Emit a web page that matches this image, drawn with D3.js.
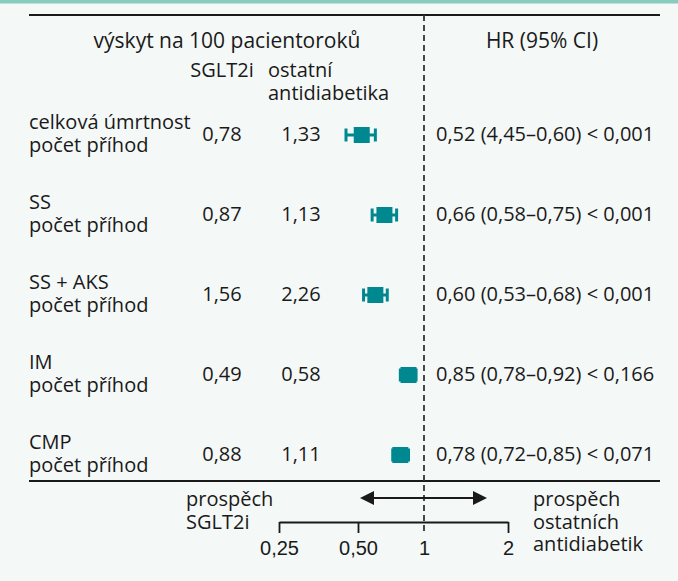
<!DOCTYPE html>
<html>
<head>
<meta charset="utf-8">
<script src="https://cdn.jsdelivr.net/npm/d3@7"></script>
<style>
  html, body { margin: 0; padding: 0; background: #f4f8f7; }
  svg { display: block; font-family: "Open Sans", "Noto Sans", sans-serif; }
  text { fill: #1a1a1a; }
</style>
</head>
<body>
<svg id="chart" width="678" height="581"></svg>
<script>
// Outcomes compared (label line 1), incidence per 100 patient-years, hazard ratios
const outcomes   = ["celková úmrtnost", "SS", "SS + AKS", "IM", "CMP"];
const subLabel   = "počet příhod";
const rateSGLT2  = ["0,78", "0,87", "1,56", "0,49", "0,88"];
const rateOther  = ["1,33", "1,13", "2,26", "0,58", "1,11"];
const hr         = [0.52, 0.66, 0.60, 0.85, 0.78];
const ciLow      = [0.45, 0.58, 0.53, 0.78, 0.72];
const ciHigh     = [0.60, 0.75, 0.68, 0.92, 0.85];
const hrText     = [
  "0,52 (4,45–0,60) < 0,001",
  "0,66 (0,58–0,75) < 0,001",
  "0,60 (0,53–0,68) < 0,001",
  "0,85 (0,78–0,92) < 0,166",
  "0,78 (0,72–0,85) < 0,071"
];
const tickValues = [0.25, 0.5, 1, 2];
const tickLabels = ["0,25", "0,50", "1", "2"];
const favourLeft  = ["prospěch", "SGLT2i"];
const favourRight = ["prospěch", "ostatních", "antidiabetik"];

const W = 678, H = 581;
const teal = "#008891";
const ink = "#1a1a1a";
const svg = d3.select("#chart");

// Log axis for hazard ratio (piecewise between labelled ticks)
const x = d3.scaleLog().domain(tickValues).range([279, 358, 424, 508]);
// Row positions
const y = d3.scalePoint().domain(outcomes).range([135, 455]);

const left = 29, right = 660, topY = 15, bottomY = 481;
const col1 = 222, col2 = 268, hrX = 436;
const fs = 20, lh = 22.5;
const axisY = 522, tickLen = 11;

// multi-line text as a single element with tspans
function multiline(sel, lines, x0, y0, anchor) {
  const t = sel.append("text").attr("x", x0).attr("y", y0).attr("font-size", fs)
    .attr("text-anchor", anchor || "start");
  t.selectAll("tspan").data(lines).join("tspan")
    .attr("x", x0).attr("dy", (d, i) => i === 0 ? 0 : lh).text(d => d);
  return t;
}

// top accent band
svg.append("rect").attr("x", 0).attr("y", 0).attr("width", W).attr("height", 3.5)
  .attr("fill", "#88ccbd");

// horizontal rules
svg.append("line").attr("x1", left).attr("x2", right).attr("y1", topY).attr("y2", topY)
  .attr("stroke", ink).attr("stroke-width", 1.8);
svg.append("line").attr("x1", left).attr("x2", right).attr("y1", bottomY).attr("y2", bottomY)
  .attr("stroke", ink).attr("stroke-width", 1.8);

// line of no effect, running down to the axis tick
svg.append("line").attr("x1", x(1)).attr("x2", x(1)).attr("y1", topY).attr("y2", axisY + tickLen)
  .attr("stroke", "#333").attr("stroke-width", 1.8).attr("stroke-dasharray", "6,4");

// headers
svg.append("text").attr("x", 227).attr("y", 48).attr("text-anchor", "middle")
  .attr("font-size", 21).text("výskyt na 100 pacientoroků");
svg.append("text").attr("x", 542).attr("y", 48).attr("text-anchor", "middle")
  .attr("font-size", 21).text("HR (95% CI)");
svg.append("text").attr("x", col1).attr("y", 77).attr("text-anchor", "middle")
  .attr("font-size", fs).text("SGLT2i");
multiline(svg, ["ostatní", "antidiabetika"], col2, 77);

// rows
const rows = svg.append("g").selectAll("g").data(outcomes).join("g")
  .attr("transform", d => `translate(0,${y(d)})`);

rows.each(function (d) { multiline(d3.select(this), [d, subLabel], left, -6); });
rows.append("text").attr("x", col1).attr("y", 6).attr("text-anchor", "middle")
  .attr("font-size", fs).text((d, i) => rateSGLT2[i]);
rows.append("text").attr("x", 301).attr("y", 6).attr("text-anchor", "middle")
  .attr("font-size", fs).text((d, i) => rateOther[i]);
rows.append("text").attr("x", hrX).attr("y", 6).attr("font-size", fs)
  .text((d, i) => hrText[i]);

// confidence intervals
const capH = 6.5;
rows.append("line").attr("x1", (d, i) => x(ciLow[i])).attr("x2", (d, i) => x(ciHigh[i]))
  .attr("y1", 0).attr("y2", 0).attr("stroke", teal).attr("stroke-width", 3);
rows.append("line").attr("x1", (d, i) => x(ciLow[i])).attr("x2", (d, i) => x(ciLow[i]))
  .attr("y1", -capH).attr("y2", capH).attr("stroke", teal).attr("stroke-width", 3);
rows.append("line").attr("x1", (d, i) => x(ciHigh[i])).attr("x2", (d, i) => x(ciHigh[i]))
  .attr("y1", -capH).attr("y2", capH).attr("stroke", teal).attr("stroke-width", 3);
// point estimates
const sq = 16;
rows.append("rect").attr("x", (d, i) => x(hr[i]) - sq / 2).attr("y", -sq / 2)
  .attr("width", sq).attr("height", sq).attr("fill", teal);

// bottom axis
const axis = d3.axisBottom(x).tickValues(tickValues)
  .tickFormat((d, i) => tickLabels[i]).tickSize(tickLen).tickSizeOuter(0).tickPadding(8);
const gAxis = svg.append("g").attr("transform", `translate(0,${axisY})`).call(axis);
gAxis.select(".domain").attr("stroke", ink).attr("stroke-width", 1.8);
gAxis.selectAll(".tick line").attr("stroke", ink).attr("stroke-width", 1.8)
  .attr("display", d => d === 1 ? "none" : null);
gAxis.selectAll(".tick text").attr("font-size", fs).attr("font-family", null).attr("fill", ink);

// double-headed arrow
const arrowY = 498, aL = x(1) - 64, aR = x(1) + 63, head = 14, hw = 7;
svg.append("line").attr("x1", aL + head - 2).attr("x2", aR - head + 2)
  .attr("y1", arrowY).attr("y2", arrowY).attr("stroke", ink).attr("stroke-width", 1.8);
svg.append("path").attr("d", `M${aL},${arrowY}L${aL + head},${arrowY - hw}L${aL + head},${arrowY + hw}Z`)
  .attr("fill", ink);
svg.append("path").attr("d", `M${aR},${arrowY}L${aR - head},${arrowY - hw}L${aR - head},${arrowY + hw}Z`)
  .attr("fill", ink);

// direction labels
multiline(svg, favourLeft, 186, 506);
multiline(svg, favourRight, 533, 506);
</script>
</body>
</html>
